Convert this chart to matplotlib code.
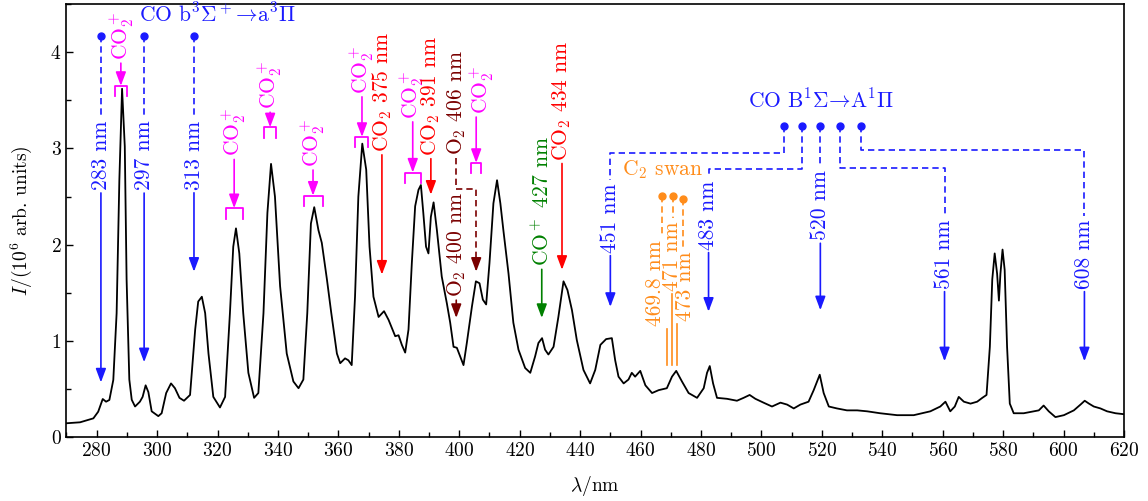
import numpy as np
import matplotlib.pyplot as plt

plt.rcParams['font.family'] = 'serif'
plt.rcParams['font.serif'] = ['cmr10']
plt.rcParams['mathtext.fontset'] = 'cm'
plt.rcParams['axes.formatter.use_mathtext'] = True

FS = 15.5
BLUE = '#1a1aff'
MAG = '#ff00ff'
RED = '#ff0000'
MAROON = '#7a0000'
GREEN = '#008000'
ORANGE = '#ff8c1a'
DASH = (0, (3.8, 2.4))

# emission spectrum
wavelength = [270.0, 274.5, 278.9, 280.5, 282.0, 283.1, 284.2, 285.5, 286.6, 287.5,
              288.4, 289.3, 289.9, 290.8, 291.6, 292.7, 294.3, 295.2, 296.2, 297.1,
              298.2, 300.4, 301.5, 303.0, 304.6, 305.9, 307.4, 308.9, 310.9, 312.6,
              313.6, 314.8, 315.9, 317.0, 318.6, 320.8, 322.5, 324.1, 325.2, 326.1,
              327.2, 328.5, 330.2, 332.1, 333.5, 335.2, 336.5, 337.7, 339.0, 340.7,
              342.9, 345.1, 346.8, 348.4, 349.7, 350.9, 352.0, 353.4, 354.5, 356.2,
              357.6, 359.5, 360.6, 362.2, 363.3, 364.4, 365.5, 366.6, 367.9, 369.2,
              370.3, 371.6, 373.3, 375.1, 376.6, 378.8, 379.9, 381.0, 382.1, 383.2,
              384.3, 385.4, 386.5, 387.3, 388.1, 389.0, 389.8, 390.6, 391.5, 392.6,
              394.2, 395.9, 397.0, 398.1, 399.2, 400.3, 401.4, 402.5, 404.2, 405.5,
              406.7, 407.8, 408.9, 410.0, 411.3, 412.5, 413.6, 414.6, 416.3, 417.9,
              419.6, 421.8, 423.5, 425.1, 426.2, 427.4, 428.4, 429.5, 431.2, 432.8,
              434.5, 435.8, 437.3, 438.9, 441.1, 443.3, 445.0, 446.7, 448.6, 450.5,
              451.6, 452.7, 454.4, 456.0, 457.1, 458.2, 459.9, 461.6, 463.8, 466.0,
              468.7, 470.4, 471.8, 473.7, 475.9, 478.7, 480.9, 482.0, 482.9, 484.0,
              485.3, 488.6, 491.9, 494.1, 496.1, 498.0, 500.7, 503.5, 506.3, 508.5,
              510.7, 512.9, 515.6, 517.3, 519.3, 520.6, 522.3, 525.0, 528.3, 531.7,
              535.0, 539.3, 544.9, 550.4, 555.9, 559.2, 560.9, 562.5, 564.0, 565.3,
              567.0, 569.2, 571.4, 573.1, 574.5, 575.6, 576.4, 577.2, 578.0, 578.6,
              579.1, 579.8, 580.5, 581.3, 582.2, 583.5, 586.8, 590.1, 591.8, 593.4,
              595.1, 597.3, 600.1, 603.4, 605.6, 607.0, 608.4, 610.0, 612.2, 614.4,
              617.2, 620.0]
intensity = [0.146, 0.156, 0.197, 0.266, 0.398, 0.37, 0.388, 0.596, 1.29, 2.67,
             3.62, 3.02, 1.64, 0.60, 0.39, 0.32, 0.37, 0.42, 0.54, 0.47,
             0.27, 0.22, 0.25, 0.46, 0.56, 0.51, 0.41, 0.38, 0.44, 1.12,
             1.41, 1.46, 1.29, 0.87, 0.42, 0.31, 0.42, 1.29, 1.98, 2.17,
             1.91, 1.29, 0.67, 0.41, 0.46, 1.29, 2.33, 2.84, 2.50, 1.57,
             0.87, 0.58, 0.51, 0.60, 1.29, 2.22, 2.39, 2.15, 2.02, 1.64,
             1.30, 0.87, 0.77, 0.82, 0.80, 0.75, 1.46, 2.50, 3.05, 2.78,
             1.98, 1.46, 1.25, 1.31, 1.22, 1.05, 1.06, 0.96, 0.88, 1.12,
             1.81, 2.40, 2.57, 2.62, 2.33, 1.98, 1.91, 2.29, 2.44, 2.15,
             1.67, 1.39, 1.19, 0.94, 0.93, 0.84, 0.75, 0.98, 1.36, 1.62,
             1.60, 1.43, 1.38, 1.81, 2.43, 2.67, 2.43, 2.15, 1.70, 1.19,
             0.91, 0.72, 0.67, 0.84, 0.98, 1.03, 0.91, 0.86, 0.94, 1.25,
             1.62, 1.53, 1.32, 1.01, 0.70, 0.56, 0.70, 0.96, 1.02, 1.03,
             0.80, 0.63, 0.56, 0.60, 0.67, 0.63, 0.69, 0.54, 0.46, 0.49,
             0.51, 0.63, 0.69, 0.58, 0.46, 0.41, 0.51, 0.67, 0.74, 0.56,
             0.41, 0.40, 0.38, 0.41, 0.44, 0.40, 0.36, 0.32, 0.36, 0.34,
             0.30, 0.34, 0.37, 0.49, 0.65, 0.46, 0.32, 0.30, 0.28, 0.28,
             0.27, 0.25, 0.23, 0.23, 0.27, 0.32, 0.37, 0.27, 0.32, 0.42,
             0.37, 0.35, 0.37, 0.41, 0.44, 0.94, 1.64, 1.91, 1.70, 1.42,
             1.70, 1.95, 1.74, 0.94, 0.35, 0.25, 0.25, 0.27, 0.28, 0.33,
             0.27, 0.21, 0.23, 0.28, 0.34, 0.38, 0.35, 0.32, 0.30, 0.27,
             0.25, 0.24]

# CO b3Sigma+ -> a3Pi bands (blue)
co3_text = ['283 nm', '297 nm', '313 nm']
co3_x = [281.4, 295.7, 312.2]
co3_tip = [0.57, 0.78, 1.72]
co3_dot_y = 4.17
co3_text_y = 2.93

# CO2+ bands (magenta): arrow x, label x, label centre, bracket top, bracket width
co2p_x = [288.0, 325.5, 337.4, 351.6, 367.8, 384.6, 405.6]
co2p_text_x = [288.4, 325.5, 337.4, 351.6, 367.6, 384.4, 407.6]
co2p_text_y = [4.17, 3.17, 3.66, 3.06, 3.82, 3.56, 3.61]
co2p_top = [3.65, 2.38, 3.22, 2.51, 3.12, 2.75, 2.85]
co2p_w = [4.1, 5.6, 4.0, 6.3, 4.3, 5.3, 3.3]

# CO2 bands (red)
co2_text = ['375', '391', '434']
co2_x = [374.4, 390.6, 434.0]
co2_text_y = [3.59, 3.55, 3.50]
co2_tip = [1.69, 2.52, 1.74]

# CO B1Sigma -> A1Pi bands (blue)
co1_text = ['451 nm', '483 nm', '520 nm', '561 nm', '608 nm']
co1_dot_x = [507.4, 513.4, 519.5, 526.1, 533.1]
co1_dot_y = 3.23
co1_turn_y = [2.955, 2.79, None, 2.80, 2.98]
co1_x = [450.0, 482.5, 519.5, 560.6, 606.9]
co1_text_y = [2.28, 2.31, 2.41, 1.905, 1.905]
co1_tip = [1.355, 1.305, 1.32, 0.79, 0.79]

# C2 swan (orange)
c2_text = ['469.8 nm', '471 nm', '473 nm']
c2_dot_x = [467.1, 470.7, 474.2]
c2_dot_y = [2.51, 2.51, 2.48]
c2_text_x = [465.0, 470.6, 474.8]
c2_text_y = [1.60, 1.88, 1.57]
c2_line_x = [468.7, 470.4, 472.1]
c2_end = 0.75

fig = plt.figure(figsize=(11.48, 5.01), dpi=100)
ax = fig.add_axes([0.0579, 0.1271, 0.9212, 0.8649])
ax.plot(wavelength, intensity, color='black', lw=1.3, zorder=1)
ax.set_xlim(270, 620)
ax.set_ylim(0, 4.5)

pending = []


def arrow(x, y0, y1, color):
    ax.annotate('', xy=(x, y1), xytext=(x, y0), zorder=3,
                arrowprops=dict(arrowstyle='-|>,head_length=0.75,head_width=0.28',
                                color=color, lw=1.2, shrinkA=0, shrinkB=0,
                                mutation_scale=11))


def vlabel(x, y, s, color, route=None, tip=None, line_x=None, line_end=None):
    t = ax.text(x, y, s, rotation=90, ha='center', va='center', fontsize=FS,
                color=color, zorder=5)
    pending.append((t, x, color, route, tip, line_x, line_end))


def dot(x, y, color):
    ax.plot(x, y, 'o', color=color, ms=5, zorder=3)


# CO b3 group
ax.text(294.0, 4.40, r'CO b$^3\Sigma^+$$\!\to\!$a$^3\Pi$', color=BLUE,
        fontsize=FS, ha='left', va='center')
for s, x, tip in zip(co3_text, co3_x, co3_tip):
    dot(x, co3_dot_y, BLUE)
    vlabel(x, co3_text_y, s, BLUE, route=([x], [co3_dot_y]), tip=tip)

# CO2+ group
for x, tx, ty, top, w in zip(co2p_x, co2p_text_x, co2p_text_y, co2p_top, co2p_w):
    vlabel(tx, ty, r'CO$_2^+$', MAG, tip=top, line_x=x)
    ax.plot([x - w / 2, x - w / 2, x + w / 2, x + w / 2],
            [top - 0.11, top, top, top - 0.11], color=MAG, lw=1.3, zorder=3)

# CO2 group
for s, x, ty, tip in zip(co2_text, co2_x, co2_text_y, co2_tip):
    vlabel(x, ty, r'CO$_2$ ' + s + ' nm', RED, tip=tip)

# O2 and CO+ lines
vlabel(399.0, 2.00, r'O$_2$ 400 nm', MAROON, tip=1.24)
vlabel(399.0, 3.48, r'O$_2$ 406 nm', MAROON)
vlabel(427.3, 2.45, r'CO$^+$ 427 nm', GREEN, tip=1.24)

# CO B1 group
ax.text(519.8, 3.51, r'CO B$^1\Sigma$$\!\to\!$A$^1\Pi$', color=BLUE,
        fontsize=FS, ha='center', va='center')
for s, dx, turn, x, ty, tip in zip(co1_text, co1_dot_x, co1_turn_y, co1_x,
                                   co1_text_y, co1_tip):
    if turn is None:
        route = ([dx], [co1_dot_y])
    else:
        route = ([dx, dx, x], [co1_dot_y, turn, turn])
    dot(dx, co1_dot_y, BLUE)
    vlabel(x, ty, s, BLUE, route=route, tip=tip)

# C2 swan
ax.text(467.2, 2.78, r'C$_2$ swan', color=ORANGE, fontsize=FS,
        ha='center', va='center')
for i, s in enumerate(c2_text):
    dot(c2_dot_x[i], c2_dot_y[i], ORANGE)
    vlabel(c2_text_x[i], c2_text_y[i], s, ORANGE,
           route=([c2_dot_x[i]], [c2_dot_y[i]]), line_x=c2_line_x[i],
           line_end=c2_end)

# join the connector lines to the label ends
fig.canvas.draw()
rend = fig.canvas.get_renderer()
inv = ax.transData.inverted()
gap = 3
for t, x, color, route, tip, line_x, line_end in pending:
    bb = t.get_window_extent(rend)
    top = inv.transform((0, bb.y1 + gap))[1]
    bottom = inv.transform((0, bb.y0 - gap))[1]
    if route is not None:
        rx, ry = route
        ax.plot(list(rx) + [rx[-1]], list(ry) + [top], color=color, lw=1.2,
                ls=DASH, zorder=2)
    lx = x if line_x is None else line_x
    if tip is not None:
        arrow(lx, bottom, tip, color)
    if line_end is not None:
        ax.plot([lx, lx], [bottom, line_end], color=color, lw=1.2, zorder=2)
    if color == MAROON and tip is None:
        # O2 406 nm: dashed dog-leg down to the 406 nm band
        ax.plot([x, x, 405.6, 405.6], [bottom, 2.58, 2.58, 1.84],
                color=MAROON, lw=1.2, ls=DASH, zorder=2)
        arrow(405.6, 1.86, 1.72, MAROON)

ax.set_xticks(np.arange(280, 621, 20))
ax.set_xticks(np.arange(270, 621, 10), minor=True)
ax.set_yticks([0, 1, 2, 3, 4])
ax.set_yticks(np.arange(0, 4.51, 0.5), minor=True)
ax.tick_params(which='both', direction='in', labelsize=14, width=1.0)
ax.tick_params(which='major', length=5)
ax.tick_params(which='minor', length=3.5)
for sp in ax.spines.values():
    sp.set_linewidth(1.2)

ax.set_xlabel(r'$\lambda$/nm', fontsize=14)
ax.set_ylabel(r'$I$/(10$^6$ arb. units)', fontsize=14)
ax.xaxis.set_label_coords(0.5, -0.085)
ax.yaxis.set_label_coords(-0.031, 0.5)

fig.savefig('out.png', dpi=100)
